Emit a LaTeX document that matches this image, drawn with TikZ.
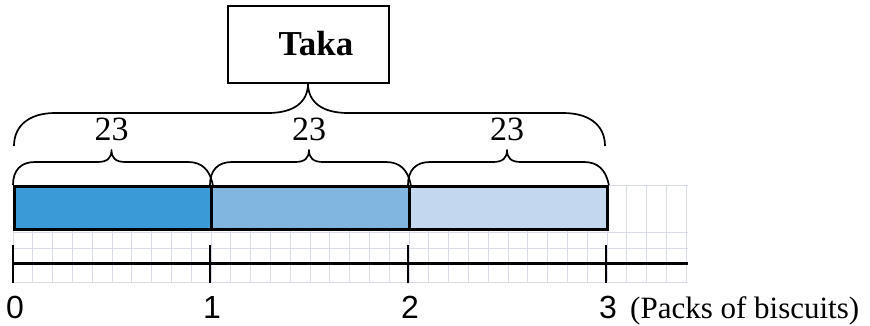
\documentclass[tikz,border=0pt]{standalone}
\usepackage{fontspec}
\setmainfont{Liberation Serif}
\newfontfamily\digitfont{Liberation Sans}
\usepackage{tikz}
\usetikzlibrary{positioning,calc}
\definecolor{packA}{HTML}{3A9AD8}
\definecolor{packB}{HTML}{80B6E0}
\definecolor{packC}{HTML}{C3D8EE}
\definecolor{gridgray}{HTML}{D7DCE6}
\begin{document}
\begin{tikzpicture}[
  x=1pt, y=-1pt,
  bar/.style={draw=black, line width=2.8pt, fill=#1, inner sep=0pt, minimum height=43pt, anchor=north west},
  brace/.style={draw=black, line width=1.7pt, line join=round},
  faint/.style={draw=gridgray, line width=1pt},
  tickmark/.style={draw=black, line width=2.4pt},
  val/.style={font=\fontsize{34}{34}\selectfont, anchor=base, inner sep=0pt},
  num/.style={font=\digitfont\fontsize{32}{32}\selectfont, anchor=base, inner sep=0pt},
  unitlbl/.style={font=\fontsize{31}{31}\selectfont, anchor=base west, inner sep=0pt}]
\useasboundingbox (0,0) rectangle (870,325);
% faint squared paper behind the tape
\foreach \i in {0,...,34}
  \draw[faint] (13+\i*19.8,185) -- (13+\i*19.8,282);
\foreach \y in {185,232,248,282}
  \draw[faint] (13,\y) -- (688,\y);
% total box
\node[draw, line width=2pt, minimum width=161pt, minimum height=77pt, inner sep=0pt] (taka) at (308,44) {};
\node[font=\fontsize{35}{35}\selectfont\bfseries, anchor=base, inner sep=0pt] (takalbl) at (316,55) {Taka};
% the three packs
\foreach \a/\b/\w/\c/\n [evaluate=\a as \m using (\a+\b)/2] in {13/210/197/packA/one, 210/408/198/packB/two, 408/606/198/packC/three} {
  \node[bar=\c, minimum width=\w pt] (bar\n) at (\a,185) {};
  \draw[brace] (bar\n.north west) .. controls (\a,170) and (\a+8,162) .. (\a+22,162) -- (\m-14,162)
    .. controls (\m-4,162) and (\m,158) .. (\m,150) .. controls (\m,158) and (\m+4,162) .. (\m+14,162)
    -- (\b-22,162) .. controls (\b-8,162) and (\b,170) .. (bar\n.north east);
  \node[val] (val\n) at (\m,140) {23};
}
% brace for the whole amount
\draw[brace] (14,146) .. controls (14,125) and (30,113) .. (55,113) -- (268,113)
  .. controls (294,113) and (308,102) .. (taka.south) .. controls (308,102) and (322,113) .. (348,113)
  -- (563,113) .. controls (589,113) and (605,125) .. (605,146);
% number line
\draw[line width=3pt] (13,263) -- (688,263);
\foreach \x/\t in {13/0,210/1,408/2,606/3} {
  \draw[tickmark] (\x,245) -- (\x,283);
  \node[num] (n\t) at (\x+2,318) {\t};
}
\node[unitlbl] (unit) at (630,318) {(Packs of biscuits)};
\end{tikzpicture}
\end{document}
